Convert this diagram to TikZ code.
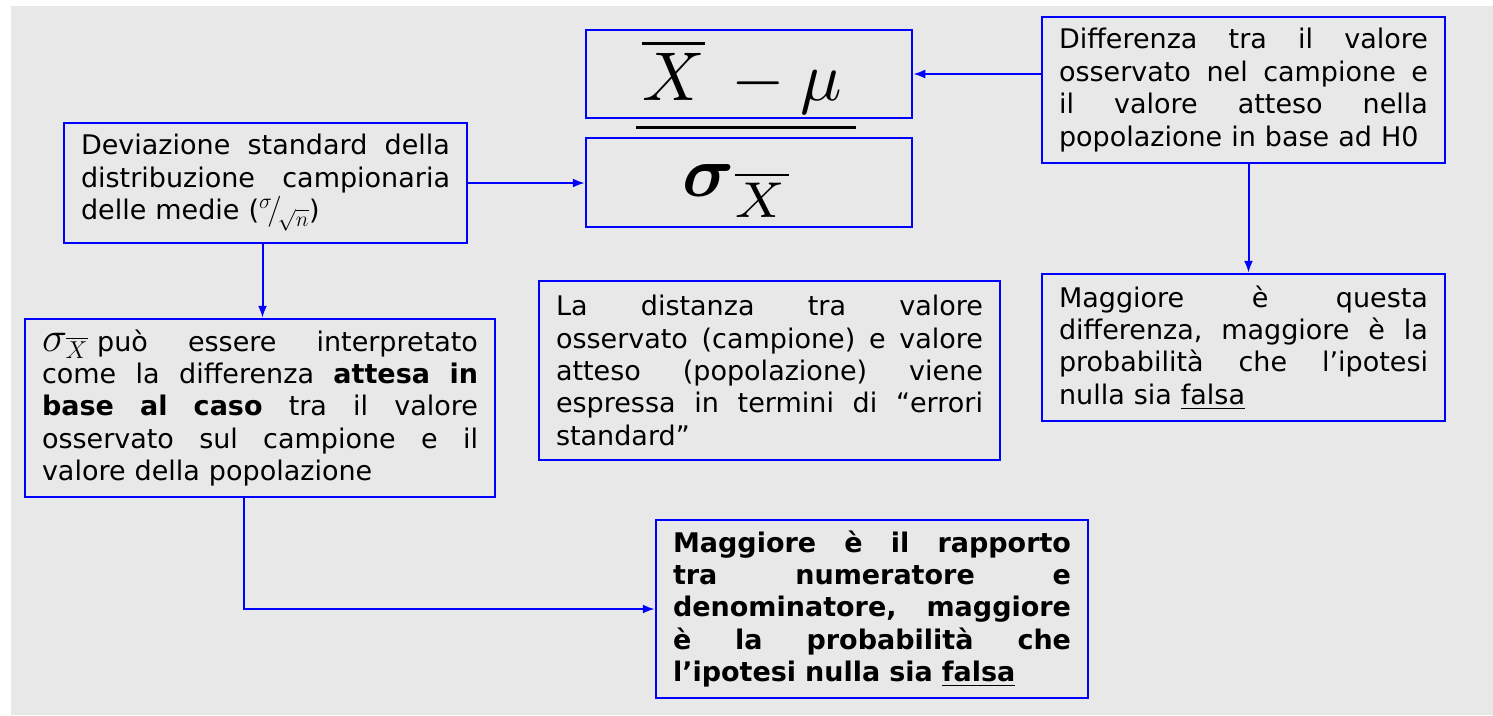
\documentclass[tikz,border=0pt]{standalone}
\usepackage{amsmath}
\usepackage{graphicx}
\usepackage{fontspec}
\setmainfont{DejaVu Sans}
\usetikzlibrary{arrows.meta}
\newlength\jw
\newcommand\jwset[1]{\setlength{\jw}{#1}\setlength{\parindent}{0pt}}
\newcommand\jl[1]{\makebox[\jw]{#1}\par}
\definecolor{bgc}{RGB}{232,232,232}
\definecolor{bl}{RGB}{0,0,255}
\tikzset{
  box/.style={draw=bl, line width=2.5pt, inner xsep=17pt, inner ysep=0pt,
    font=\fontsize{27}{32.4}\selectfont},
  arr/.style={draw=bl, line width=2pt, -{Latex[length=12pt,width=9pt]}},
}
\begin{document}
\begin{tikzpicture}[x=1pt,y=-1pt]
\useasboundingbox (0,0) rectangle (1493,715);
\fill[bgc] (11,6) rectangle (1493,715);

% fraction boxes
\node[box, minimum width=326pt, minimum height=88pt] (num) at (749,74) {};
\node[box, minimum width=326pt, minimum height=89pt] (den) at (749,182.5) {};
\node[anchor=base, inner sep=0pt] (numtxt) at (742,100)
  {\scalebox{6.9}{$\overline{X}\,-\mu$}};
\node[anchor=base, inner sep=0pt] (dentxt) at (736,196)
  {\scalebox{7.2}{$\boldsymbol{\sigma}_{\overline{X}}$}};
\draw[line width=3pt] (636,127) -- (856,127);

% text boxes
\node[box, text width=369pt, minimum height=120pt] (dev) at (265.5,183) {\jwset{369pt}%
\jl{Deviazione\hfill standard\hfill della}
\jl{distribuzione\hfill campionaria}
delle medie (\scalebox{1.25}{${}^{\sigma}\!/_{\!\sqrt{n}}$})};

\node[box, text width=436pt, minimum height=178pt] (sbox) at (260,408) {\jwset{436pt}%
\jl{\scalebox{1.7}{$\sigma_{\scriptscriptstyle\overline{X}}$}\ può\hfill essere\hfill interpretato}
\jl{come\hfill la\hfill differenza\hfill \textbf{attesa}\hfill \textbf{in}}
\jl{\textbf{base}\hfill \textbf{al}\hfill \textbf{caso}\hfill tra\hfill il\hfill valore}
\jl{osservato\hfill sul\hfill campione\hfill e\hfill il}
valore della popolazione};

\node[box, text width=369pt, minimum height=146pt] (diff) at (1243.5,90) {\jwset{369pt}%
\jl{Differenza\hfill tra\hfill il\hfill valore}
\jl{osservato\hfill nel\hfill campione\hfill e}
\jl{il\hfill valore\hfill atteso\hfill nella}
popolazione in base ad H0};

\node[box, text width=369pt, minimum height=147pt] (mag) at (1243.5,347.5) {\jwset{369pt}%
\jl{Maggiore\hfill è\hfill questa}
\jl{differenza,\hfill maggiore\hfill è\hfill la}
\jl{probabilità\hfill che\hfill l’ipotesi}
nulla sia \underline{falsa}};

\node[box, text width=427pt, minimum height=179pt] (dist) at (769.5,370.5) {\jwset{427pt}%
\jl{La\hfill distanza\hfill tra\hfill valore}
\jl{osservato\hfill (campione)\hfill e\hfill valore}
\jl{atteso\hfill (popolazione)\hfill viene}
\jl{espressa\hfill in\hfill termini\hfill di\hfill “errori}
standard”};

\node[box, text width=398pt, minimum height=178pt, font=\fontsize{27}{32.4}\selectfont\bfseries] (bold) at (872,609) {\jwset{398pt}%
\jl{Maggiore\hfill è\hfill il\hfill rapporto}
\jl{tra\hfill numeratore\hfill e}
\jl{denominatore,\hfill maggiore}
\jl{è\hfill la\hfill probabilità\hfill che}
l’ipotesi nulla sia \underline{falsa}};

% connectors
\draw[arr] (diff.west |- num.east) -- (num.east);
\draw[arr] (dev.east) -- (den.west |- dev.east);
\draw[arr] ([xshift=-3pt]dev.south) -- ([xshift=-3pt]dev.south |- sbox.north);
\draw[arr] ([xshift=5pt]diff.south) -- ([xshift=5pt]diff.south |- mag.north);
\draw[arr] ([xshift=-16pt]sbox.south) |- (bold.west);
\end{tikzpicture}
\end{document}
